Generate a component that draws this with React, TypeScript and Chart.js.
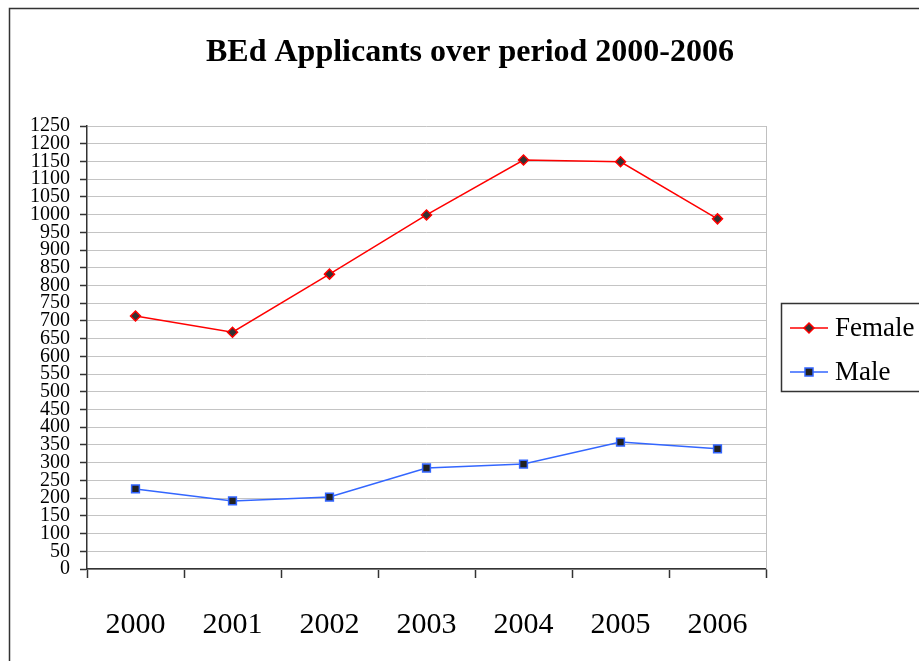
import React, { useEffect, useRef } from "react";
import { Chart, registerables } from "chart.js";

Chart.register(...registerables);

const titleText = "BEd Applicants over period 2000-2006";
const years = ["2000", "2001", "2002", "2003", "2004", "2005", "2006"];
const femaleValues = [714, 668, 832, 999, 1154, 1149, 988];
const maleValues = [226, 192, 203, 285, 296, 358, 339];
const seriesNames = ["Female", "Male"];
const yMin = 0;
const yMax = 1250;
const yStep = 50;

const SERIF = "'Liberation Serif', 'Times New Roman', serif";

const decorPlugin = {
  id: "decor",
  afterDraw(chart: any) {
    const ctx = chart.ctx;
    const area = chart.chartArea;
    ctx.save();
    // outer frame
    ctx.strokeStyle = "#333333";
    ctx.lineWidth = 1.5;
    ctx.strokeRect(9.5, 8.5, chart.width + 20, chart.height + 20);
    // plot right edge
    ctx.strokeStyle = "#c0c0c0";
    ctx.lineWidth = 1;
    ctx.beginPath();
    ctx.moveTo(Math.round(area.right) + 0.5, area.top);
    ctx.lineTo(Math.round(area.right) + 0.5, area.bottom);
    ctx.stroke();
    // title
    ctx.fillStyle = "#000000";
    ctx.font = "bold 32px " + SERIF;
    ctx.textAlign = "center";
    ctx.textBaseline = "middle";
    ctx.fillText(titleText, 470, 53);
    // legend box
    const bx = 781.5, by = 303.5;
    ctx.strokeStyle = "#333333";
    ctx.lineWidth = 1.5;
    ctx.strokeRect(bx, by, 200, 88);
    const rows = [328, 372];
    chart.data.datasets.forEach((ds: any, i: number) => {
      const y = rows[i];
      ctx.strokeStyle = ds.borderColor;
      ctx.lineWidth = 1.5;
      ctx.beginPath();
      ctx.moveTo(790, y);
      ctx.lineTo(828, y);
      ctx.stroke();
      ctx.fillStyle = ds.pointBackgroundColor;
      ctx.strokeStyle = ds.pointBorderColor;
      ctx.lineWidth = ds.pointBorderWidth;
      ctx.beginPath();
      if (ds.pointStyle === "rectRot") {
        ctx.moveTo(809, y - 5);
        ctx.lineTo(814, y);
        ctx.lineTo(809, y + 5);
        ctx.lineTo(804, y);
        ctx.closePath();
      } else {
        ctx.rect(805, y - 4, 8, 8);
      }
      ctx.fill();
      ctx.stroke();
      ctx.fillStyle = "#000000";
      ctx.font = "27px " + SERIF;
      ctx.textAlign = "left";
      ctx.textBaseline = "middle";
      ctx.fillText(ds.label, 835, y + 1);
    });
    ctx.restore();
  },
};

function App() {
  const canvasRef = useRef<HTMLCanvasElement | null>(null);

  useEffect(() => {
    const canvas = canvasRef.current;
    if (!canvas) return;
    const chart = new Chart(canvas, {
      type: "line",
      data: {
        labels: years,
        datasets: [
          {
            label: seriesNames[0],
            data: femaleValues,
            borderColor: "#ff0000",
            backgroundColor: "#ff0000",
            borderWidth: 1.5,
            pointStyle: "rectRot",
            pointRadius: 5,
            pointBackgroundColor: "#333333",
            pointBorderColor: "#ff0000",
            pointBorderWidth: 1.5,
            tension: 0,
          },
          {
            label: seriesNames[1],
            data: maleValues,
            borderColor: "#3366ff",
            backgroundColor: "#3366ff",
            borderWidth: 1.5,
            pointStyle: "rect",
            pointRadius: 5.5,
            pointBackgroundColor: "#222222",
            pointBorderColor: "#3366ff",
            pointBorderWidth: 1.5,
            tension: 0,
          },
        ],
      },
      options: {
        animation: false,
        responsive: false,
        maintainAspectRatio: false,
        layout: { padding: { top: 126, right: 153, bottom: 0, left: 0 } },
        plugins: {
          legend: { display: false },
          title: { display: false },
          tooltip: { enabled: false },
        },
        scales: {
          x: {
            type: "category",
            offset: true,
            grid: {
              display: true,
              drawOnChartArea: false,
              drawTicks: true,
              tickLength: 9,
              offset: true,
              tickColor: "#333333",
              tickWidth: 1.5,
            },
            border: { display: true, color: "#333333", width: 1.5 },
            ticks: {
              color: "#000000",
              font: { family: SERIF, size: 30 },
              padding: 29,
              maxRotation: 0,
              autoSkip: false,
            },
            afterFit(scale: any) {
              scale.height = 92;
            },
          },
          y: {
            type: "linear",
            min: yMin,
            max: yMax,
            grid: {
              color: "#c4c4c4",
              lineWidth: 1,
              drawTicks: true,
              tickLength: 7,
              tickColor: "#333333",
              tickWidth: 1.5,
            },
            border: { display: true, color: "#333333", width: 1.5 },
            ticks: {
              stepSize: yStep,
              autoSkip: false,
              color: "#000000",
              font: { family: SERIF, size: 20 },
              padding: 10,
              callback: (v: any) => String(v),
            },
            afterFit(scale: any) {
              scale.width = 87;
            },
          },
        },
      },
      plugins: [decorPlugin],
    });
    return () => chart.destroy();
  }, []);

  return (
    <div style={{ position: "fixed", left: 0, top: 0, width: 919, height: 661, background: "#ffffff" }}>
      <canvas ref={canvasRef} width={919} height={661} style={{ width: 919, height: 661, display: "block" }} />
    </div>
  );
}

export default App;
